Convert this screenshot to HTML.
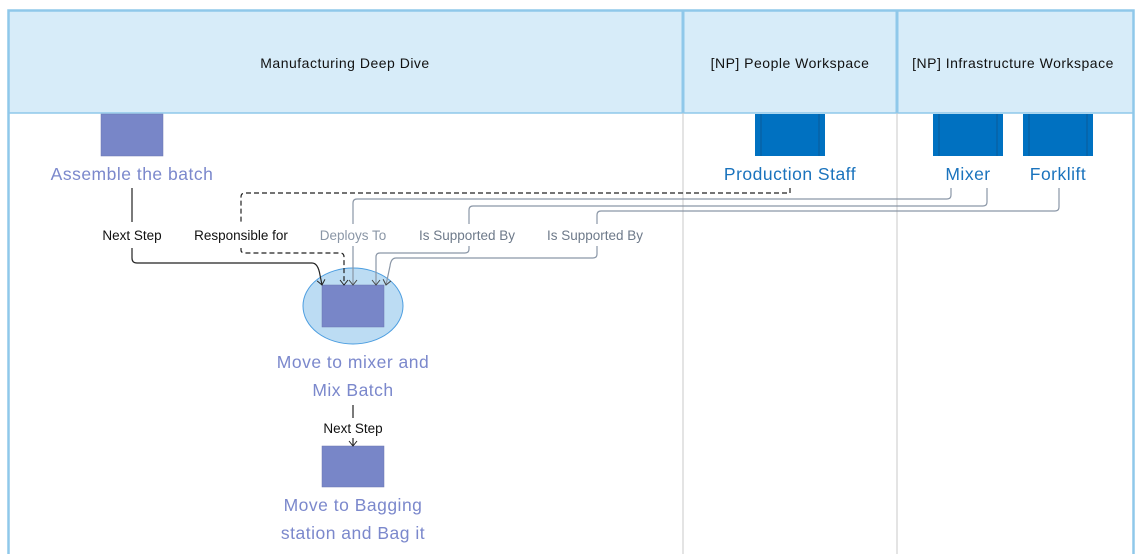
<!DOCTYPE html>
<html><head><meta charset="utf-8"><style>
html,body{margin:0;padding:0;background:#fff;}
svg{display:block;font-family:"Liberation Sans",sans-serif;}
</style></head><body>
<svg width="1147" height="554" viewBox="0 0 1147 554" xmlns="http://www.w3.org/2000/svg">
<defs>
<marker id="ab" markerWidth="10" markerHeight="10" refX="8" refY="5" orient="auto" markerUnits="userSpaceOnUse">
<path d="M3,1 L8,5 L3,9" fill="none" stroke="#222" stroke-width="1"/></marker>
<marker id="ag" markerWidth="10" markerHeight="10" refX="8" refY="5" orient="auto" markerUnits="userSpaceOnUse">
<path d="M3,1 L8,5 L3,9" fill="none" stroke="#444" stroke-width="1"/></marker>
</defs>
<rect x="0" y="0" width="1147" height="554" fill="#fff"/>
<rect x="9" y="11" width="1124" height="102" fill="#d7ecf9"/>
<line x1="9" y1="113" x2="1133" y2="113" stroke="#8fc8ea" stroke-width="1.5"/>
<line x1="683" y1="11" x2="683" y2="113" stroke="#8fc8ea" stroke-width="3"/>
<line x1="897" y1="11" x2="897" y2="113" stroke="#8fc8ea" stroke-width="3"/>
<line x1="683" y1="113" x2="683" y2="554" stroke="#c8c8c8" stroke-width="1"/>
<line x1="897" y1="113" x2="897" y2="554" stroke="#c8c8c8" stroke-width="1"/>
<rect x="8.5" y="10.5" width="1125" height="550" fill="none" stroke="#8fc8ea" stroke-width="2.5"/>
<g font-size="14" fill="#111" text-anchor="middle" letter-spacing="0.5">
<text x="345" y="68">Manufacturing Deep Dive</text>
<text x="790" y="68">[NP] People Workspace</text>
<text x="1013" y="68">[NP] Infrastructure Workspace</text>
</g>
<rect x="101" y="114" width="62" height="42" fill="#7886c8" stroke="#6a76b0" stroke-width="0.5"/>
<ellipse cx="353" cy="306" rx="50" ry="38" fill="#bcdcf3" stroke="#4d9ee0" stroke-width="1"/>
<rect x="322" y="285" width="62" height="42" fill="#7886c8" stroke="#6a76b0" stroke-width="0.5"/>
<rect x="322" y="446" width="62" height="41" fill="#7886c8" stroke="#6a76b0" stroke-width="0.5"/>
<g fill="#0071c1">
<rect x="755" y="114" width="70" height="42"/>
<rect x="933" y="114" width="70" height="42"/>
<rect x="1023" y="114" width="70" height="42"/>
</g>
<g stroke="#0a5a99" stroke-width="1">
<line x1="761" y1="114" x2="761" y2="156"/><line x1="819" y1="114" x2="819" y2="156"/>
<line x1="939" y1="114" x2="939" y2="156"/><line x1="997" y1="114" x2="997" y2="156"/>
<line x1="1029" y1="114" x2="1029" y2="156"/><line x1="1087" y1="114" x2="1087" y2="156"/>
</g>
<g font-size="17.5" fill="#7b88cc" text-anchor="middle" letter-spacing="0.5">
<text x="132" y="180">Assemble the batch</text>
<text x="353" y="368">Move to mixer and</text>
<text x="353" y="396">Mix Batch</text>
<text x="353" y="511">Move to Bagging</text>
<text x="353" y="539">station and Bag it</text>
</g>
<g font-size="17.5" fill="#1a73bd" text-anchor="middle" letter-spacing="0.5">
<text x="790" y="180">Production Staff</text>
<text x="968" y="180">Mixer</text>
<text x="1058" y="180">Forklift</text>
</g>
<g fill="none" stroke-width="1.2">
<path d="M132,188 V222 M132,248 V258 Q132,263 137,263 H312 Q318,263 320,275 L322,285" stroke="#222" marker-end="url(#ab)"/>
<path d="M790,188 V193 H245 Q241,193 241,197 V222 M241,248 V250 Q241,253 245,253 H340 Q344,253 344,257 V285" stroke="#222" stroke-dasharray="5,3" marker-end="url(#ab)"/>
<path d="M951,188 V195 Q951,199 947,199 H357 Q353,199 353,203 V224 M353,246 V285" stroke="#8a96a6" marker-end="url(#ag)"/>
<path d="M987,188 V202 Q987,206 983,206 H473 Q469,206 469,210 V224 M469,246 V249 Q469,253 465,253 H380 Q376,253 376,257 V285" stroke="#8a96a6" marker-end="url(#ag)"/>
<path d="M1059,188 V207 Q1059,211 1055,211 H601 Q597,211 597,215 V224 M597,246 V254 Q597,258 593,258 H396 Q391,258 390,266 L386,285" stroke="#8a96a6" marker-end="url(#ag)"/>
<path d="M353,405 V418 M353,438 V446" stroke="#222" marker-end="url(#ab)"/>
</g>
<g font-size="13.5" text-anchor="middle">
<text x="132" y="240" fill="#111">Next Step</text>
<text x="241" y="240" fill="#111">Responsible for</text>
<text x="353" y="240" fill="#8a96a6">Deploys To</text>
<text x="467" y="240" fill="#6e7a8a">Is Supported By</text>
<text x="595" y="240" fill="#6e7a8a">Is Supported By</text>
<text x="353" y="433" fill="#111">Next Step</text>
</g>
</svg>
</body></html>
